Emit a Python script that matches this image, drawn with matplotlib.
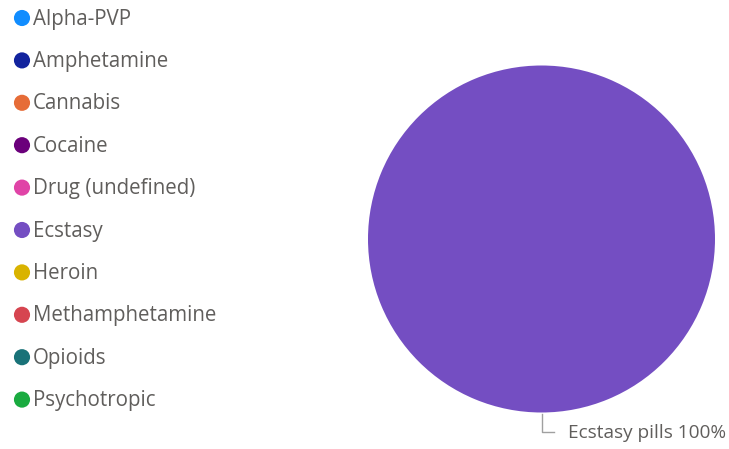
import matplotlib
matplotlib.use("Agg")
import matplotlib.pyplot as plt

# legend entries (drug types) and their colours
drug_types = ["Alpha-PVP", "Amphetamine", "Cannabis", "Cocaine", "Drug (undefined)",
              "Ecstasy", "Heroin", "Methamphetamine", "Opioids", "Psychotropic"]
drug_colors = ["#118DFF", "#12239E", "#E66C37", "#6B007B", "#E044A7",
               "#744EC2", "#D9B300", "#D64550", "#197278", "#1AAB40"]

# pie slices
slice_labels = ["Ecstasy pills"]
slice_values = [100]
slice_colors = ["#744EC2"]

text_color = "#605E5C"
plt.rcParams['font.family'] = ['Open Sans', 'DejaVu Sans']

W, H = 729, 449
fig = plt.figure(figsize=(W / 100, H / 100), dpi=100)

# legend drawn in pixel coordinates
lax = fig.add_axes([0, 0, 1, 1])
lax.set_xlim(0, W)
lax.set_ylim(H, 0)
lax.axis("off")
for i, (name, col) in enumerate(zip(drug_types, drug_colors)):
    y = 18 + i * 42.4
    lax.scatter([22], [y], s=135, color=col, edgecolors="none")
    lax.text(33, y + 1, name, fontsize=14.8, color=text_color, va="center", ha="left")

# pie
cx, cy, r = 541.5, 239, 173.5
pax = fig.add_axes([(cx - r) / W, (H - cy - r) / H, 2 * r / W, 2 * r / H])
pax.pie(slice_values, colors=slice_colors, radius=1, startangle=90,
        wedgeprops=dict(linewidth=0))
pax.set_xlim(-1, 1)
pax.set_ylim(-1, 1)
pax.set_aspect("equal")
pax.axis("off")

total = sum(slice_values)
for lab, val in zip(slice_labels, slice_values):
    pax.plot([0, 0, 0.07], [-1.01, -1.11, -1.11], color="#A0A0A0", lw=1, clip_on=False)
    pax.text(0.155, -1.12, f"{lab} {val / total * 100:.0f}%", fontsize=13.7,
             color=text_color, va="center", ha="left", clip_on=False)

fig.savefig("out.png", dpi=100, facecolor="white")
